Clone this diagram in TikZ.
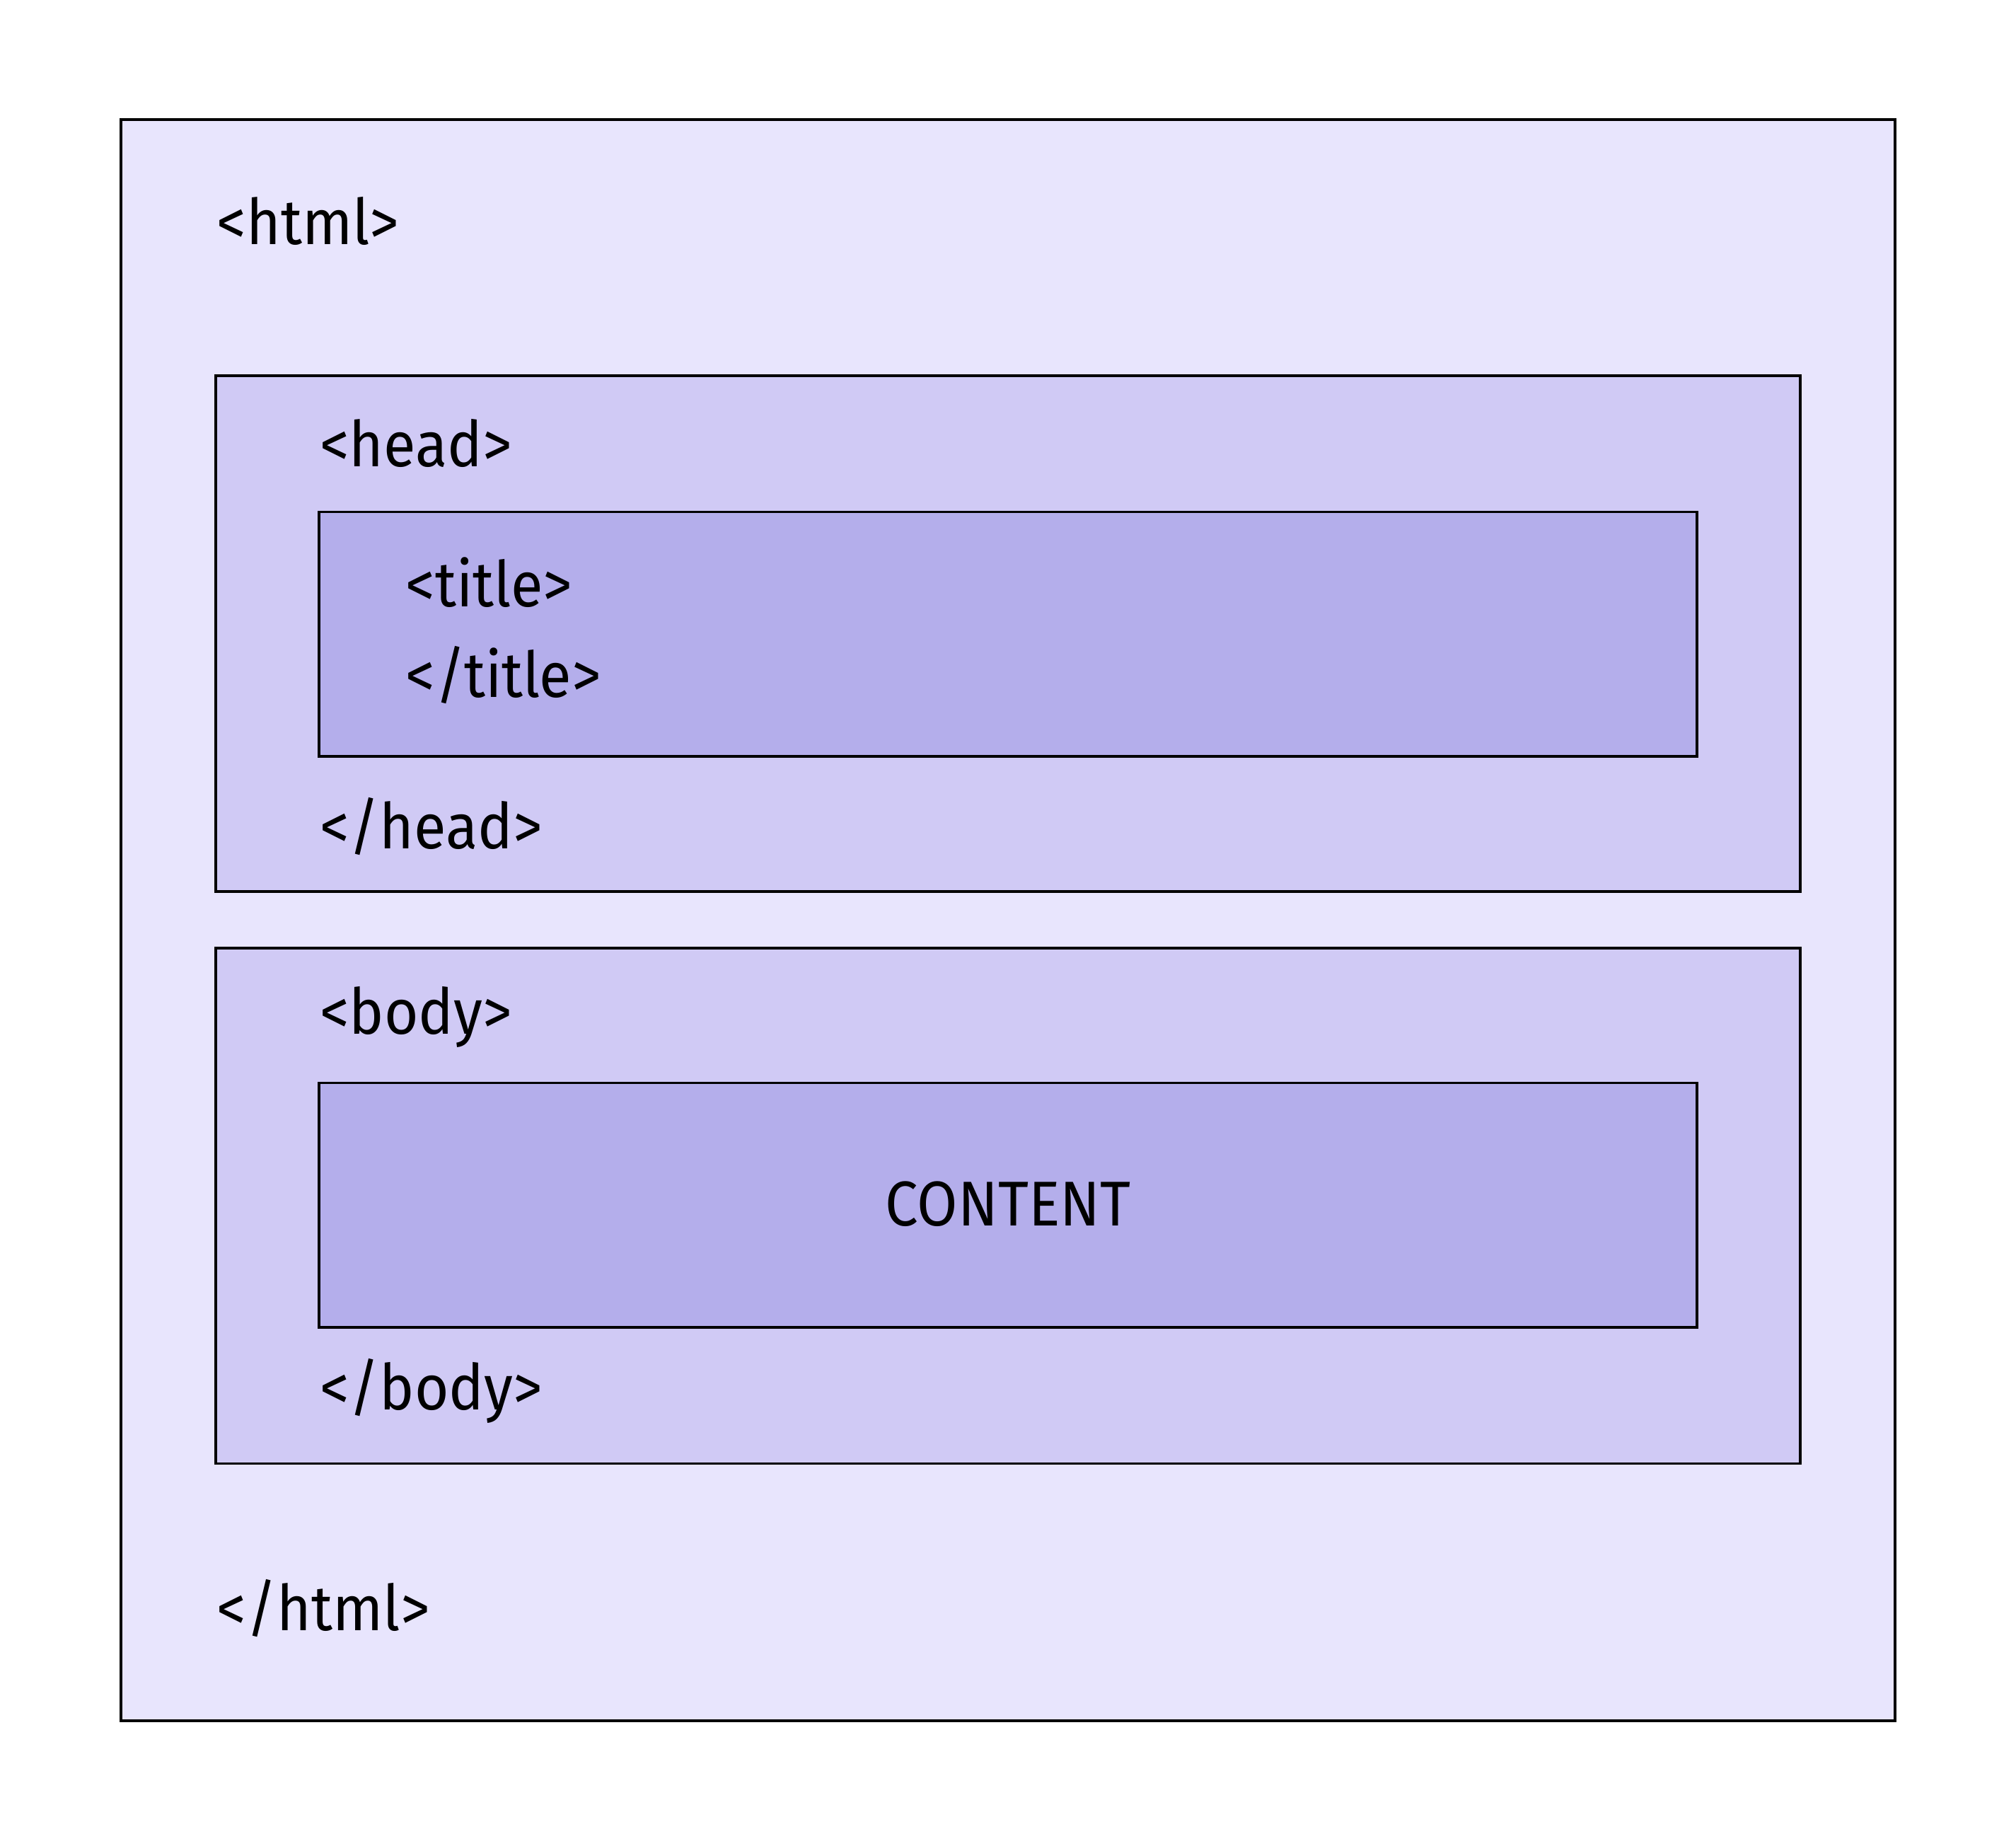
\documentclass[tikz,border=0pt]{standalone}
\usepackage{fontspec}
\setmainfont[FakeStretch=0.93]{Fira Sans}
\usepackage{tikz}
\definecolor{htmlfill}{RGB}{232, 229, 253}
\definecolor{partfill}{RGB}{208, 202, 245}
\definecolor{innerfill}{RGB}{180, 174, 235}
\tikzset{
	tag/.style={anchor=base west, inner sep=0pt, font=\fontsize{14}{16}\selectfont},
	box/.style={draw=black, line width=0.6pt}
}

\begin{document}
\begin{tikzpicture}[x=0.01cm, y=-0.01cm]
		\useasboundingbox (0,0) rectangle (1568,1435);
		% outer html box
		\draw[box, fill=htmlfill] (94,93) rectangle (1474,1338);
		\node[tag] (htmlopen) at (168,190) {<html>};
		\node[tag] (htmlclose) at (168,1268) {</html>};
		% head
		\draw[box, fill=partfill] (168,292) rectangle (1400,693);
		\node[tag] (headopen) at (248,363) {<head>};
		\draw[box, fill=innerfill] (248,398) rectangle (1320,588);
		\node[tag] (titleopen) at (315,472) {<title>};
		\node[tag] (titleclose) at (315,542) {</title>};
		\node[tag] (headclose) at (248,660) {</head>};
		% body
		\draw[box, fill=partfill] (168,737) rectangle (1400,1138);
		\node[tag] (bodyopen) at (248,804) {<body>};
		\draw[box, fill=innerfill] (248,842) rectangle (1320,1032);
		\node[tag, anchor=base] (content) at (784,953) {CONTENT};
		\node[tag] (bodyclose) at (248,1096) {</body>};
\end{tikzpicture}
\end{document}
